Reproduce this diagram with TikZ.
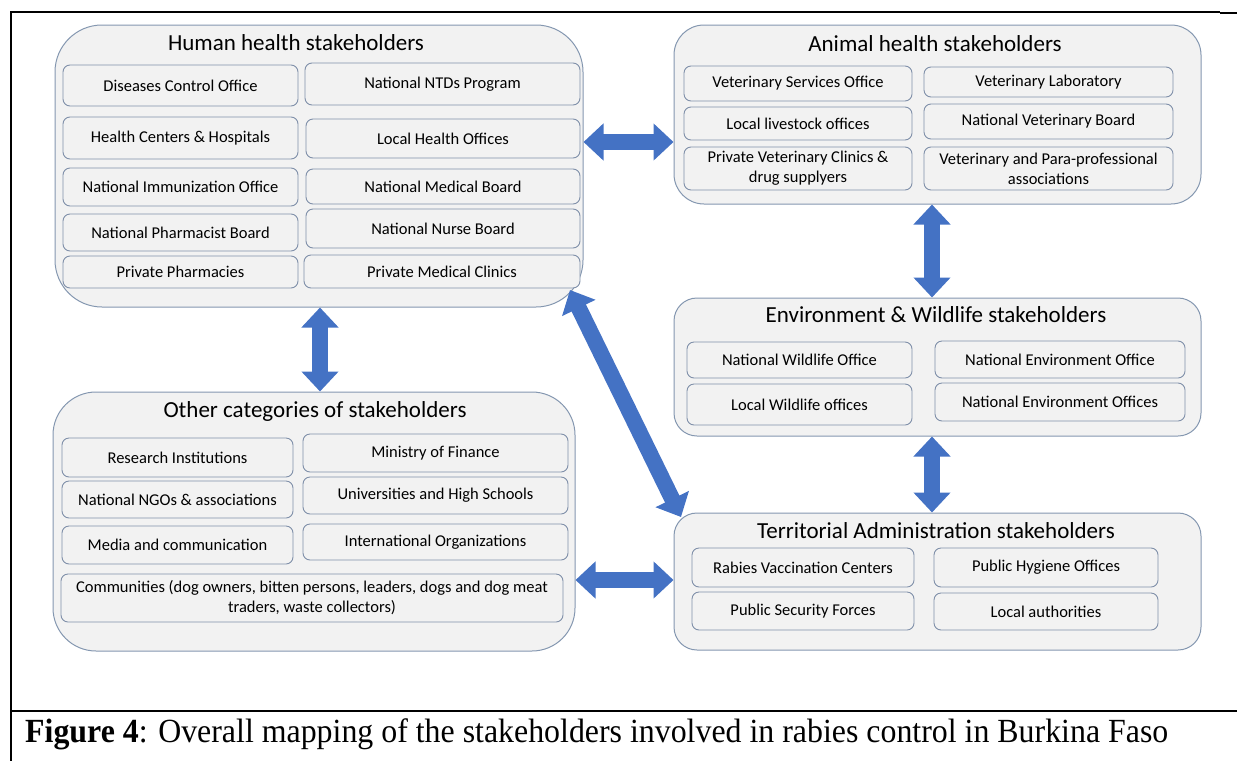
\documentclass[tikz,border=0pt]{standalone}
\usepackage{graphicx}
\usepackage{fontspec}
\setmainfont{Carlito}
\newfontfamily\capfont{Liberation Serif}
\usetikzlibrary{arrows.meta}

\definecolor{boxfill}{HTML}{F2F2F2}
\definecolor{boxline}{HTML}{8497B0}
\definecolor{itemline}{HTML}{7F8FA9}
\definecolor{arrowblue}{HTML}{4472C4}

\tikzset{
  group/.style={draw=boxline, fill=boxfill, line width=1pt, inner sep=0pt},
  item/.style={draw=itemline, fill=boxfill, line width=0.9pt, rounded corners=7pt,
    inner sep=1pt, align=center, font=\fontsize{16.5}{20}\selectfont},
  grouptitle/.style={anchor=base, inner sep=0pt, font=\fontsize{23}{27}\selectfont},
  link/.style={arrowblue, line width=16pt,
    {Triangle[width=36pt,length=20pt]}-{Triangle[width=36pt,length=20pt]}},
  rule/.style={line width=1.3pt, black},
}

% stakeholder entry: name, x1, y1, x2, y2, text
\newcommand\itembox[6]{%
  \node[item, minimum width={(#4-#2)*1pt}, minimum height={(#5-#3)*1pt}]
    (#1) at ({(#2+#4)/2},{(#3+#5)/2}) {#6};}
% stakeholder group: name, x1, y1, x2, y2, corner radius
\newcommand\groupbox[6]{%
  \node[group, rounded corners=#6pt, minimum width={(#4-#2)*1pt}, minimum height={(#5-#3)*1pt}]
    (#1) at ({(#2+#4)/2},{(#3+#5)/2}) {};}

\begin{document}
\begin{tikzpicture}[x=1pt, y=-1pt]
\useasboundingbox (0,0) rectangle (1237,761);

% table rules around the figure
\draw[rule] (10,12) -- (1220,12);
\draw[line width=2.2pt] (10,12) -- (33,12);
\draw[line width=2.4pt] (1220,13) -- (1237,13);
\draw[rule] (11,12) -- (11,761);
\draw[line width=2pt] (11,711) -- (1237,711);

% groups
\groupbox{hh}{55}{25}{583}{307}{47}
\groupbox{ah}{674}{25}{1201}{204}{30}
\groupbox{ew}{674}{298}{1201}{436}{23}
\groupbox{ta}{674}{513}{1201}{650}{23}
\groupbox{oc}{53}{392}{575}{651}{43}

% group titles
\node[grouptitle] (hht) at (296,50) {Human health stakeholders};
\node[grouptitle] (aht) at (935,51) {Animal health stakeholders};
\node[grouptitle] (ewt) at (936,322) {Environment \& Wildlife stakeholders};
\node[grouptitle] (tat) at (936,538) {Territorial Administration stakeholders};
\node[grouptitle] (oct) at (315,417) {Other categories of stakeholders};

% human health
\itembox{dco}{63}{65}{298}{106}{Diseases Control Office}
\itembox{ntd}{305}{63}{580}{105}{National NTDs Program}
\itembox{hch}{63}{117}{298}{159}{Health Centers \& Hospitals}
\itembox{lho}{306}{119}{580}{158}{Local Health Offices}
\itembox{nio}{63}{168}{298}{206}{National Immunization Office}
\itembox{nmb}{306}{169}{580}{204}{National Medical Board}
\itembox{npb}{63}{214}{298}{251}{National Pharmacist Board}
\itembox{nnb}{306}{209}{580}{248}{National Nurse Board}
\itembox{pph}{63}{256}{298}{288}{Private Pharmacies}
\itembox{pmc}{304}{255}{580}{288}{Private Medical Clinics}

% animal health
\itembox{vso}{684}{66}{912}{101}{Veterinary Services Office}
\itembox{vlab}{924}{67}{1173}{97}{Veterinary Laboratory}
\itembox{llo}{684}{107}{912}{140}{Local livestock offices}
\itembox{nvb}{924}{104}{1173}{139}{National Veterinary Board}
\itembox{pvc}{684}{147}{912}{190}{Private Veterinary Clinics \&\\drug supplyers}
\itembox{vpa}{924}{147}{1173}{190}{Veterinary and Para-professional\\associations}

% environment and wildlife
\itembox{nwo}{687}{342}{912}{378}{National Wildlife Office}
\itembox{neo}{935}{341}{1185}{378}{National Environment Office}
\itembox{lwo}{687}{384}{912}{425}{Local Wildlife offices}
\itembox{neos}{935}{383}{1185}{421}{National Environment Offices}

% territorial administration
\itembox{rvc}{692}{548}{914}{587}{Rabies Vaccination Centers}
\itembox{pho}{934}{548}{1158}{587}{Public Hygiene Offices}
\itembox{psf}{692}{592}{914}{630}{Public Security Forces}
\itembox{lau}{934}{593}{1158}{630}{Local authorities}

% other categories
\itembox{rin}{62}{438}{293}{477}{Research Institutions}
\itembox{mof}{303}{434}{568}{472}{Ministry of Finance}
\itembox{ngo}{62}{481}{293}{518}{National NGOs \& associations}
\itembox{uhs}{303}{477}{568}{514}{Universities and High Schools}
\itembox{mac}{62}{526}{293}{564}{Media and communication}
\itembox{ino}{303}{524}{568}{560}{International Organizations}
\itembox{com}{61}{574}{563}{622}{Communities (dog owners, bitten persons, leaders, dogs and dog meat\\traders, waste collectors)}

% links between groups
\coordinate (d1) at (570,290);
\coordinate (d2) at (681,517);
\draw[link] (hh.east |- 0,142) -- (ah.west |- 0,142);
\draw[link] (hh.south -| 320,0) -- (oc.north -| 320,0);
\draw[link] (ah.south -| 932,0) -- (ew.north -| 932,0);
\draw[link] (ew.south -| 932,0) -- (ta.north -| 932,0);
\draw[link] (oc.east |- 0,580) -- (ta.west |- 0,580);
\draw[link] (d1) -- (d2);

% caption
\node[anchor=base west, inner sep=0pt] (cap) at (25,742)
  {\resizebox{1143pt}{\height}{\capfont\fontsize{33.8}{40}\selectfont\textbf{Figure 4}: Overall mapping of the stakeholders involved in rabies control in Burkina Faso}};
\end{tikzpicture}
\end{document}
